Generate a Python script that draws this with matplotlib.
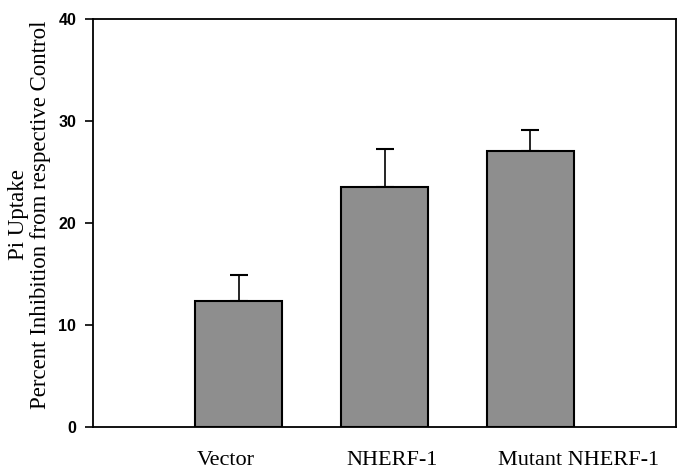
import matplotlib.pyplot as plt
import numpy as np

groups = ["Vector", "NHERF-1", "Mutant NHERF-1"]
inhibition = [12.4, 23.5, 27.1]
sem = [2.5, 3.8, 2.0]

# where the group names sit under the axis (they are not centred on the bars)
label_pos = [0.91, 2.05, 3.33]

fig = plt.figure(figsize=(6.81, 4.73), dpi=100)
ax = fig.add_axes([93 / 681, 1 - 427 / 473, (676 - 93) / 681, (427 - 19) / 473])

x = np.arange(1, len(groups) + 1)
ax.bar(x, inhibition, width=0.6, color="#8e8e8e", edgecolor="black", linewidth=1.5, zorder=2)
ax.errorbar(x, inhibition, yerr=[np.zeros(len(sem)), sem], fmt="none", ecolor="black",
            elinewidth=1.2, capsize=6.5, capthick=1.5, zorder=1)

ax.set_xlim(0, 4)
ax.set_ylim(0, 40)
ax.set_yticks([0, 10, 20, 30, 40])
ax.set_xticks(label_pos)
ax.set_xticklabels(groups, family="Liberation Serif", fontsize=16)
for lbl in ax.get_yticklabels():
    lbl.set_family("Liberation Sans")
    lbl.set_fontsize(11.5)
    lbl.set_fontweight("bold")
ax.tick_params(axis="x", length=0, pad=17)
ax.tick_params(axis="y", direction="out", length=6, width=1.2, pad=6)
for s in ax.spines.values():
    s.set_linewidth(1.3)

ax.set_ylabel("Pi Uptake\nPercent Inhibition from respective Control",
              family="Liberation Serif", fontsize=16.5, linespacing=1.05)
ax.yaxis.set_label_coords(-0.072, 0.52)

fig.savefig("out.png", dpi=100)
